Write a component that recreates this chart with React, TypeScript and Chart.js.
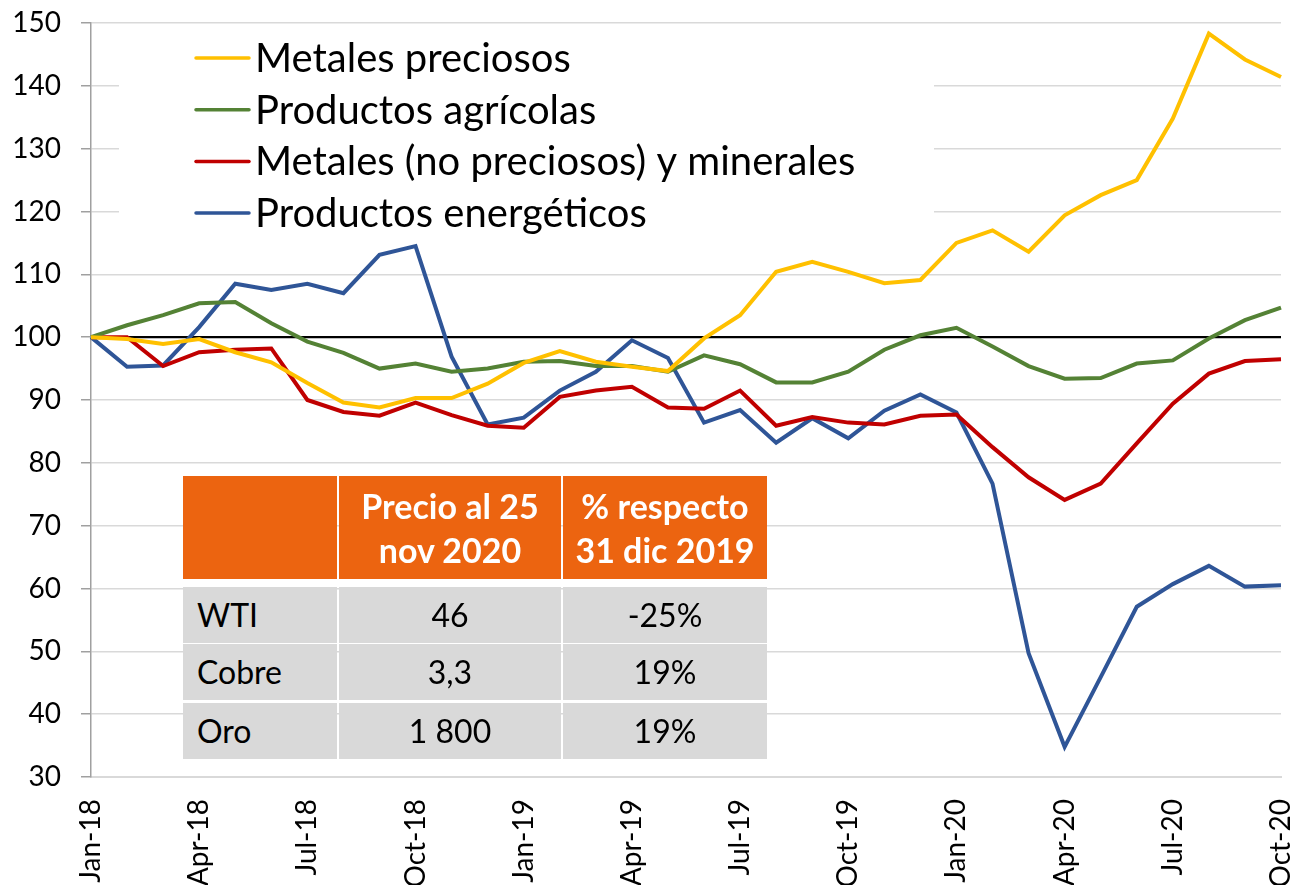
import React, { useEffect, useRef } from "react";
import { Chart, registerables } from "chart.js";

Chart.register(...registerables);

const months: string[] = [
  "Jan-18", "Feb-18", "Mar-18", "Apr-18", "May-18", "Jun-18", "Jul-18", "Aug-18", "Sep-18", "Oct-18", "Nov-18", "Dec-18",
  "Jan-19", "Feb-19", "Mar-19", "Apr-19", "May-19", "Jun-19", "Jul-19", "Aug-19", "Sep-19", "Oct-19", "Nov-19", "Dec-19",
  "Jan-20", "Feb-20", "Mar-20", "Apr-20", "May-20", "Jun-20", "Jul-20", "Aug-20", "Sep-20", "Oct-20",
];

const metalesPreciosos: number[] = [
  100, 99.7, 98.9, 99.7, 97.6, 96.0, 92.7, 89.6, 88.8, 90.3, 90.3, 92.6,
  95.9, 97.8, 96.1, 95.3, 94.6, 99.8, 103.5, 110.4, 112.0, 110.4, 108.6, 109.1,
  115.0, 117.0, 113.6, 119.4, 122.6, 125.0, 134.8, 148.3, 144.2, 141.4,
];

const productosAgricolas: number[] = [
  100, 101.9, 103.5, 105.4, 105.6, 102.2, 99.3, 97.5, 95.0, 95.8, 94.5, 95.0,
  96.1, 96.2, 95.4, 95.4, 94.5, 97.1, 95.7, 92.8, 92.8, 94.5, 98.0, 100.3,
  101.5, 98.5, 95.4, 93.4, 93.5, 95.8, 96.3, 99.8, 102.7, 104.7,
];

const metalesNoPreciosos: number[] = [
  100, 100.0, 95.4, 97.6, 98.0, 98.2, 90.0, 88.1, 87.5, 89.6, 87.6, 85.9,
  85.6, 90.5, 91.5, 92.1, 88.8, 88.6, 91.5, 85.9, 87.3, 86.4, 86.1, 87.5,
  87.7, 82.5, 77.7, 74.1, 76.7, 83.1, 89.4, 94.2, 96.2, 96.5,
];

const productosEnergeticos: number[] = [
  100, 95.3, 95.5, 101.6, 108.5, 107.5, 108.5, 107.0, 113.1, 114.5, 96.9, 86.1,
  87.2, 91.5, 94.5, 99.5, 96.7, 86.4, 88.4, 83.2, 87.1, 83.9, 88.3, 90.9,
  88.0, 76.7, 49.7, 34.8, 45.9, 57.1, 60.7, 63.6, 60.3, 60.5,
];

const seriesLabels: string[] = [
  "Metales preciosos",
  "Productos agrícolas",
  "Metales (no preciosos) y minerales",
  "Productos energéticos",
];
const seriesColors: string[] = ["#FFC000", "#548235", "#C00000", "#2F5597"];

const referenceValue = 100;

const tableHeader: string[] = ["", "Precio al 25\nnov 2020", "% respecto\n31 dic 2019"];
const tableRowLabels: string[] = ["WTI", "Cobre", "Oro"];
const tablePrices: string[] = ["46", "3,3", "1 800"];
const tableChanges: string[] = ["-25%", "19%", "19%"];

const FONT = "Lato, 'Open Sans', sans-serif";

const refLinePlugin = {
  id: "refLine",
  beforeDatasetsDraw(chart: any) {
    const { ctx, chartArea, scales } = chart;
    const y = scales.y.getPixelForValue(referenceValue);
    ctx.save();
    ctx.strokeStyle = "#000000";
    ctx.lineWidth = 2.2;
    ctx.beginPath();
    ctx.moveTo(chartArea.left, y);
    ctx.lineTo(chartArea.right, y);
    ctx.stroke();
    ctx.restore();
  },
};

const boxLegendPlugin = {
  id: "boxLegend",
  afterDatasetsDraw(chart: any) {
    const { ctx } = chart;
    const box = { x: 119, y: 30, w: 815, h: 208 };
    ctx.save();
    ctx.fillStyle = "#ffffff";
    ctx.fillRect(box.x, box.y, box.w, box.h);
    ctx.font = `40px ${FONT}`;
    ctx.textBaseline = "middle";
    ctx.fillStyle = "#000000";
    chart.data.datasets.forEach((ds: any, i: number) => {
      const cy = 58 + i * 51.7;
      ctx.strokeStyle = ds.borderColor;
      ctx.lineWidth = 3.5;
      ctx.lineCap = "round";
      ctx.beginPath();
      ctx.moveTo(196, cy);
      ctx.lineTo(249, cy);
      ctx.stroke();
      ctx.fillText(ds.label, 255, cy + 1);
    });
    ctx.restore();
  },
};

export default function App() {
  const canvasRef = useRef<HTMLCanvasElement | null>(null);

  useEffect(() => {
    document.body.style.margin = "0";
    const canvas = canvasRef.current;
    if (!canvas) return;
    const datasetsData = [metalesPreciosos, productosAgricolas, metalesNoPreciosos, productosEnergeticos];
    const chart = new Chart(canvas, {
      type: "line",
      data: {
        labels: months,
        datasets: datasetsData.map((d, i) => ({
          label: seriesLabels[i],
          data: d,
          borderColor: seriesColors[i],
          backgroundColor: seriesColors[i],
          borderWidth: 4,
          pointRadius: 0,
          tension: 0,
          fill: false,
        })),
      },
      options: {
        animation: false,
        responsive: false,
        maintainAspectRatio: false,
        layout: { padding: { top: 23, right: 17, left: 0, bottom: 0 } },
        plugins: {
          legend: { display: false },
          tooltip: { enabled: false },
        },
        scales: {
          x: {
            type: "category",
            offset: false,
            grid: { display: false, drawTicks: false },
            border: { display: true, color: "#d9d9d9", width: 2 },
            ticks: {
              autoSkip: false,
              maxRotation: 90,
              minRotation: 90,
              padding: 22,
              color: "#000000",
              font: { family: FONT, size: 28 },
              callback: (_v: any, i: number) => (i % 3 === 0 ? months[i] : ""),
            },
            afterFit: (scale: any) => {
              scale.height = 108;
              scale.paddingLeft = 0;
              scale.paddingRight = 0;
            },
          },
          y: {
            min: 30,
            max: 150,
            grid: {
              color: "#d9d9d9",
              lineWidth: 1.5,
              tickLength: 10,
              tickColor: "#a0a0a0",
            },
            border: { display: true, color: "#a0a0a0", width: 1.5 },
            ticks: {
              stepSize: 10,
              padding: 20,
              color: "#000000",
              font: { family: FONT, size: 28 },
            },
            afterFit: (scale: any) => {
              scale.width = 91;
              scale.paddingTop = 0;
              scale.paddingBottom = 0;
            },
          },
        },
      },
      plugins: [refLinePlugin, boxLegendPlugin],
    });
    return () => chart.destroy();
  }, []);

  const colLeft = [183, 339, 563];
  const colWidth = [154, 222, 204];
  const headerTop = 476;
  const headerHeight = 103;
  const rowTops = [587, 644, 703];
  const rowHeight = 56;

  const cellBase: React.CSSProperties = {
    position: "absolute",
    display: "flex",
    alignItems: "center",
    boxSizing: "border-box",
    fontFamily: FONT,
    fontSize: 32,
    lineHeight: "44px",
    whiteSpace: "pre",
  };

  return (
    <div style={{ position: "relative", width: 1298, height: 885, background: "#ffffff", overflow: "hidden" }}>
      <canvas ref={canvasRef} width={1298} height={885} style={{ display: "block", width: 1298, height: 885 }} />
      {tableHeader.map((h, c) => (
        <div
          key={"h" + c}
          style={{
            ...cellBase,
            left: colLeft[c],
            top: headerTop,
            width: colWidth[c],
            height: headerHeight,
            background: "#EC6410",
            color: "#ffffff",
            fontWeight: 700,
            fontSize: 34,
            justifyContent: "center",
            textAlign: "center",
          }}
        >
          {h}
        </div>
      ))}
      {tableRowLabels.map((r, ri) => {
        const cells = [r, tablePrices[ri], tableChanges[ri]];
        return cells.map((t, c) => (
          <div
            key={"r" + ri + "c" + c}
            style={{
              ...cellBase,
              left: colLeft[c],
              top: rowTops[ri],
              width: colWidth[c],
              height: rowHeight,
              background: "#D9D9D9",
              color: "#000000",
              justifyContent: c === 0 ? "flex-start" : "center",
              paddingLeft: c === 0 ? 14 : 0,
            }}
          >
            {t}
          </div>
        ));
      })}
    </div>
  );
}
